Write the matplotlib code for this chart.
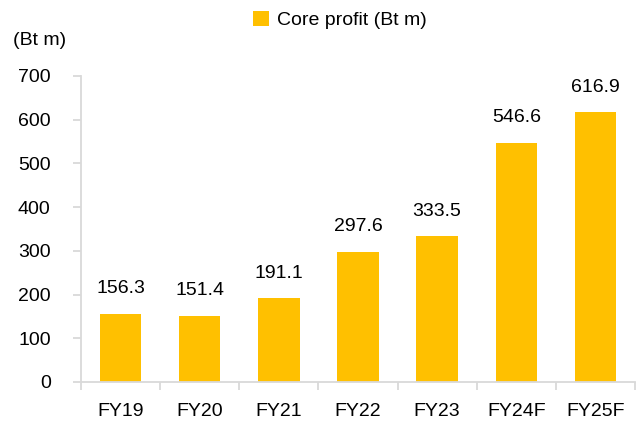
import matplotlib
matplotlib.use("Agg")
import matplotlib.pyplot as plt
import numpy as np

plt.rcParams['font.family'] = ['Liberation Sans', 'DejaVu Sans']

categories = ['FY19', 'FY20', 'FY21', 'FY22', 'FY23', 'FY24F', 'FY25F']
core_profit = [156.3, 151.4, 191.1, 297.6, 333.5, 546.6, 616.9]

BAR_COLOR = '#FFC000'
AXIS_COLOR = '#D9D9D9'

fig = plt.figure(figsize=(6.44, 4.26), dpi=100)
ax = fig.add_axes([0.1258, 0.1033, 0.8602, 0.7183])

x = np.arange(len(categories))
bars = ax.bar(x, core_profit, width=0.525, color=BAR_COLOR, label='Core profit (Bt m)', zorder=2)

for xi, v in zip(x, core_profit):
    ax.annotate(f'{v:.1f}', (xi, v), xytext=(0, 12), textcoords='offset points',
                ha='center', va='bottom', fontsize=14)

ax.set_xlim(-0.5, len(categories) - 0.5)
ax.set_ylim(0, 700)
ax.set_yticks(np.arange(0, 701, 100))
ax.tick_params(axis='y', labelsize=14, length=5.8, width=1.3, color=AXIS_COLOR, pad=16)

# category labels centred, tick marks on the boundaries
ax.set_xticks(x)
ax.set_xticklabels(categories, fontsize=14)
ax.tick_params(axis='x', which='major', length=0, pad=15)
ax.set_xticks(np.arange(-0.5, len(categories)), minor=True)
ax.tick_params(axis='x', which='minor', length=5.5, width=1.3, color=AXIS_COLOR)

for s in ['top', 'right']:
    ax.spines[s].set_visible(False)
for s in ['left', 'bottom']:
    ax.spines[s].set_color(AXIS_COLOR)
    ax.spines[s].set_linewidth(1.3)

fig.text(0.02, 0.905, '(Bt m)', fontsize=14, ha='left', va='center')

ax.legend(loc='center', bbox_to_anchor=(0.467, 1.183), frameon=False,
          fontsize=14, handlelength=0.8, handleheight=0.8, handletextpad=0.4,
          borderpad=0)

fig.savefig('out.png', dpi=100)
